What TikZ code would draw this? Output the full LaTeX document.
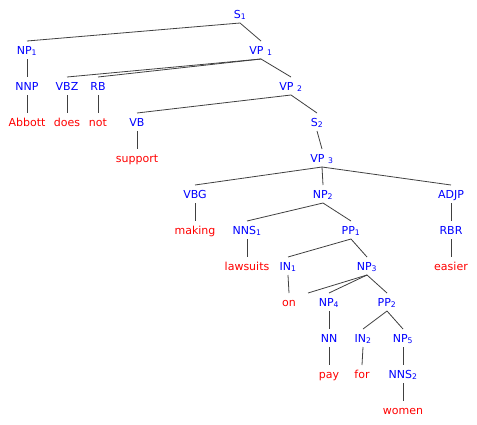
\documentclass[tikz,border=0pt]{standalone}
\usepackage{fontspec}
\setmainfont{DejaVu Sans}
\definecolor{lblue}{RGB}{0,0,255}
\definecolor{lred}{RGB}{255,0,0}
\definecolor{lgray}{RGB}{64,64,64}
\newcommand\tsub[1]{\textsubscript{#1}}
\newcommand\tedge[2]{\draw[edge] ([yshift=-9pt]#1.center) -- ([yshift=9pt]#2.center);}
\tikzset{
  base/.style={inner sep=0pt, text height=8pt, text depth=0pt, font=\fontsize{11}{13}\selectfont},
  cat/.style={base, text=lblue},
  word/.style={base, text=lred},
  edge/.style={draw=lgray, line width=0.8pt}
}
\begin{document}
\begin{tikzpicture}[x=1pt,y=-1pt]
\useasboundingbox (0,0) rectangle (477,424);
\node[cat] (S1) at (240,14) {S\tsub{1}};
\node[cat] (NP1) at (27,50) {NP\tsub{1}};
\node[cat] (VP1) at (261,50) {VP \tsub{1}};
\node[cat] (NNP) at (27,86) {NNP};
\node[cat] (VBZ) at (67,86) {VBZ};
\node[cat] (RB) at (98,86) {RB};
\node[cat] (VP2) at (291,86) {VP \tsub{2}};
\node[word] (Abbott) at (27,122) {Abbott};
\node[word] (does) at (67,122) {does};
\node[word] (not) at (98,122) {not};
\node[cat] (VB) at (137,122) {VB};
\node[cat] (S2) at (317,122) {S\tsub{2}};
\node[word] (support) at (137,158) {support};
\node[cat] (VP3) at (322,158) {VP \tsub{3}};
\node[cat] (VBG) at (195,194) {VBG};
\node[cat] (NP2) at (323,194) {NP\tsub{2}};
\node[cat] (ADJP) at (451,194) {ADJP};
\node[word] (making) at (195,230) {making};
\node[cat] (NNS1) at (247,230) {NNS\tsub{1}};
\node[cat] (PP1) at (351,230) {PP\tsub{1}};
\node[cat] (RBR) at (451,230) {RBR};
\node[word] (lawsuits) at (247,266) {lawsuits};
\node[cat] (IN1) at (288,266) {IN\tsub{1}};
\node[cat] (NP3) at (367,266) {NP\tsub{3}};
\node[word] (easier) at (451,266) {easier};
\node[word] (on) at (289,302) {on};
\coordinate (X) at (308,302);
\node[cat] (NP4) at (329,302) {NP\tsub{4}};
\node[cat] (PP2) at (387,302) {PP\tsub{2}};
\node[cat] (NN) at (329,338) {NN};
\node[cat] (IN2) at (363,338) {IN\tsub{2}};
\node[cat] (NP5) at (403,338) {NP\tsub{5}};
\node[word] (pay) at (329,374) {pay};
\node[word] (for) at (362,374) {for};
\node[cat] (NNS2) at (403,374) {NNS\tsub{2}};
\node[word] (women) at (403,410) {women};
\tedge{S1}{NP1}
\tedge{S1}{VP1}
\tedge{NP1}{NNP}
\tedge{NNP}{Abbott}
\tedge{VP1}{VBZ}
\tedge{VP1}{RB}
\tedge{VP1}{VP2}
\tedge{VBZ}{does}
\tedge{RB}{not}
\tedge{VP2}{VB}
\tedge{VP2}{S2}
\tedge{VB}{support}
\tedge{S2}{VP3}
\tedge{VP3}{VBG}
\tedge{VP3}{NP2}
\tedge{VP3}{ADJP}
\tedge{VBG}{making}
\tedge{NP2}{NNS1}
\tedge{NP2}{PP1}
\tedge{NNS1}{lawsuits}
\tedge{PP1}{IN1}
\tedge{PP1}{NP3}
\tedge{IN1}{on}
\tedge{NP3}{X}
\tedge{NP3}{NP4}
\tedge{NP3}{PP2}
\tedge{ADJP}{RBR}
\tedge{RBR}{easier}
\tedge{NP4}{NN}
\tedge{NN}{pay}
\tedge{PP2}{IN2}
\tedge{PP2}{NP5}
\tedge{IN2}{for}
\tedge{NP5}{NNS2}
\tedge{NNS2}{women}
\end{tikzpicture}
\end{document}
